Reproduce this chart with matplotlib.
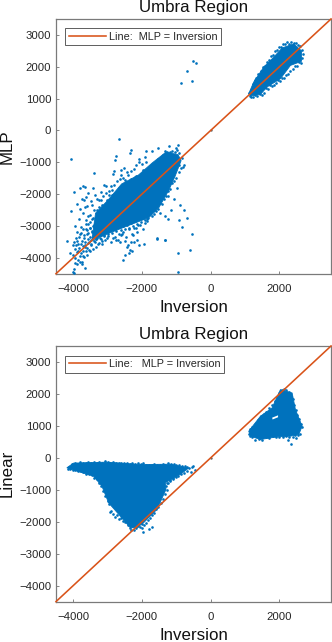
import matplotlib
matplotlib.use("Agg")
import matplotlib.pyplot as plt
from matplotlib.lines import Line2D

plt.rcParams['font.family'] = ['Liberation Sans', 'DejaVu Sans']

BLUE = '#0072BD'
ORANGE = '#D95319'
GREY = '#262626'

# top panel: solid part of the lower cloud, outline
mlp_core_x = [-3350, -2980, -2590, -2100, -1700, -1300, -950, -860, -1040, -1220, -1510, -1800, -2400, -2980, -3280,
              -3450]
mlp_core_y = [-2600, -2180, -1680, -1400, -1020, -680, -760, -950, -1450, -1880, -2430, -2740, -2990, -3240, -3380,
              -3400]
# top panel: solid part of the upper cloud
mlp_upper_x = [1107, 1155, 1447, 1640, 2029, 2320, 2640, 2640, 2417, 2078, 1835, 1544, 1252]
mlp_upper_y = [1156, 1080, 1130, 1365, 1625, 2042, 2170, 2500, 2720, 2590, 2302, 1990, 1520]
# top panel: single points around the clouds
mlp_pts_x = [-515, -427, -700, -874, -553, -2680, -2330, -2360, -1883, -4064, -2757, -2785, -3386,
             -2533, -2610, -2804, -2853, -3647, -3802, -3967, -3415, -3370, -3100, -3040, -2950, -2900, -3180,
             -3240, -3560, -3620, -3680, -3750, -3900, -4050, -3600, -3480, -3440, -3300, -3380,
             -3250, -3700, -3790, -3840, -3950, -3880, -3760, -3640, -3700, -3580, -3520, -3430, -3610,
             -4000, -3960, -3880, -3820, -3760, -3680, -3600, -3520, -3440, -3360, -3900, -3840, -3780, -3720,
             -3660, -3580, -3500, -3420, -3340, -3260, -4170, -4090, -4010, -3940, -3870, -3810, -3750, -3690,
             -3620, -3540, -3470, -3390, -3310, -3230, -3950, -3880, -3800, -3730, -3670, -3590, -3500,
             -3430, -3350, -3280, -3200, -4020, -3980, -3910, -3850, -3780, -3720, -3650, -3570,
             -3490, -3410, -3330, -3250, -3170, -3090, -3010, -3150, -3070, -2990, -2910, -2830, -2750,
             -2680, -3200, -3120, -3040, -2960, -2880, -2800, -2720, -2640, -2560, -2480, -2400, -2320,
             -2240, -2160, -2080, -2000, -1920, -2780, -2700, -2620, -2540, -2460, -2380, -2300, -2220,
             -2140, -2060, -1980, -1900, -1820, -1740, -2650, -2570, -2490, -2410, -2330, -2250, -2170,
             -3700, -3660, -2600, -2440, -2200, -2080, -1980, -1880, -1700, -1520, -1330, -1200, -1180, -1000,
             -950, -930, -1100, -800, -895, -770, -682, -915, -837, -546, -605, -954, -1322, -1554,
             -3980, -2560, -2500, -2350, -2230, -2130, -2080, -1950, -1560, -1330, -1720, -1640, -1480,
             -1340, -1240, -1160, -1080, -990, -1230, -2430, -2290, -2370, -2120, -1850, -951,
             -3300, -3220, -3150, -3080, -3010, -2940, -2870, -2800, -2730, -2660, -2590, -2520,
             -2450, -2380, -2310, -2240, -2170, -2100, -2030, -1960, -1890, -1820, -1750, -1680,
             -1610, -1540, -1470, -1400, -1330, -1260, -1190, -1120, -1050, -980, -910, -840,
             -790, -860, -930, -1000, -1060, -1120, -1180, -1240, -1300, -1360, -1420, -1480,
             -1540, -1600, -1660, -1720, -1780, -1840, -1900, -1960, -2020, -2080, -2140, -2200,
             -2260, -2320, -2380, -2440, -2500, -2560, -2620, -2680, -2740, -2800, -2860, -2920,
             -2980, -3040, -3100, -3160, -3220, -3280, -3340, -3400, -3460, -3520, -3580, -3640,
             -3200, -3260, -3320, -3380, -3440, -3500, -3560, -3620, -3680, -3740, -3800, -3860,
             -3920, -3980, -3720, -3660, -3600, -3540, -3480, -3420, -3360, -3300, -3240, -3180,
             1120, 1160, 1220, 1280, 1330, 1390, 1450, 1510, 1570, 1630, 1690, 1750, 1810, 1870, 1930, 1990,
             2050, 2110, 2170, 2230, 2290, 2350, 2410, 2470, 2530, 2590, 2650, 2680, 2660, 2620, 2560, 2500,
             2440, 2380, 2320, 2260, 2200, 2140, 2080, 2020, 1960, 1900, 1840, 1780, 1720, 1660, 1600, 1540,
             1480, 1420, 1360, 1300, 1240, 1180, 1130]
mlp_pts_y = [2177, 2104, 1875, 1479, 1542, -271, -604, -698, -656, -906, -802, -927, -1344,
             -1165, -1228, -1270, -1353, -1773, -1815, -1930, -1794, -2020, -1720, -1760, -1900, -1760, -1930,
             -2180, -1950, -2080, -2200, -2150, -2300, -2530, -2380, -2220, -2350, -2160, -2500,
             -2400, -2600, -2460, -2780, -3000, -3200, -3020, -2820, -3090, -2950, -2650, -2740, -3250,
             -3600, -3720, -3480, -3340, -3220, -3380, -3120, -3050, -3200, -2900, -3830, -3700, -3560, -3640,
             -3500, -3420, -3350, -3000, -2800, -2720, -3470, -3850, -3910, -4000, -4080, -3950, -4120, -3990,
             -3800, -3750, -3600, -3480, -3300, -3150, -4160, -4200, -4130, -4180, -4310, -3900, -3780,
             -3720, -3660, -3580, -3400, -4440, -4480, -3600, -3780, -3860, -3930, -3650, -3550,
             -3450, -3350, -3400, -3260, -3480, -3300, -3380, -3560, -3440, -3320, -3500, -3380, -3440,
             -3250, -2200, -2050, -1950, -2040, -1880, -1700, -1600, -1520, -1480, -1560, -1400, -1260,
             -1200, -1100, -1000, -1060, -850, -3350, -3450, -3280, -3200, -3360, -3100, -3260, -3060,
             -3180, -2980, -3100, -2900, -2750, -2500, -3500, -3240, -3460, -3600, -3500, -3300, -3080,
             -1740, -2420, -1400, -1300, -1460, -900, -1240, -1000, -660, -560, -640, -480, -680, -560,
             -450, -1100, -1400, -1150, -2349, -2485, -2737, -2800, -3030, -3240, -3741, -3837, -3449, -3397,
             -4350, -4060, -3900, -3740, -3520, -3440, -3590, -3560, -3380, -3440, -2300, -2500, -2600,
             -2700, -2780, -2500, -2150, -1800, -2050, -3670, -3780, -3860, -2980, -2840, -4448,
             -2500, -2620, -2330, -2400, -2180, -2250, -2020, -2100, -1900, -1800, -1880, -1700,
             -1620, -1700, -1520, -1600, -1440, -1530, -1380, -1460, -1260, -1340, -1120, -1210,
             -1040, -900, -980, -760, -860, -680, -720, -640, -690, -620, -720, -860,
             -1090, -1180, -1300, -1480, -1590, -1650, -1830, -1900, -2060, -2150, -2320, -2270,
             -2470, -2540, -2620, -2700, -2640, -2780, -2810, -2740, -2880, -2790, -2940, -2860,
             -2990, -2900, -3050, -2960, -3090, -3010, -3140, -3040, -3170, -3090, -3220, -3130,
             -3260, -3150, -3310, -3190, -3370, -3250, -3420, -3300, -3150, -3050, -3230, -3110,
             -2900, -3000, -2850, -2960, -2780, -2880, -2700, -2940, -3300, -3460, -3260, -3560,
             -3390, -3520, -3800, -3600, -3680, -3520, -3560, -3420, -3520, -3380, -3550, -3290,
             1180, 1280, 1460, 1580, 1640, 1780, 1860, 1980, 2020, 2160, 2200, 2340, 2360, 2490, 2540, 2620,
             2620, 2710, 2700, 2770, 2730, 2790, 2760, 2740, 2690, 2640, 2520, 2400, 2260, 2130, 2150, 2030,
             2020, 1920, 1860, 1760, 1740, 1640, 1650, 1560, 1590, 1480, 1440, 1390, 1420, 1310, 1330, 1190,
             1100, 1130, 1070, 1100, 1040, 1060, 1080]
# bottom panel: solid lower cloud
lin_core_x = [-4184, -3990, -3020, -2049, -1175, -641, -883, -1320, -1300, -1563, -1951, -2146, -2340, -2631, -2971,
              -3165, -3408, -3990]
lin_core_y = [-312, -165, -135, -210, -200, -320, -520, -781, -990, -1615, -2031, -2187, -2187, -1823, -1406,
              -885, -573, -385]
# bottom panel: solid upper cloud and the small gap inside it
lin_upper_x = [1107, 1447, 1786, 2029, 2369, 2466, 2660, 2563, 2320, 1932, 1447, 1155]
lin_upper_y = [833, 1302, 1562, 2135, 2031, 1510, 990, 729, 677, 656, 573, 677]
lin_gap_x = [1789, 1960, 1960, 1800]
lin_gap_y = [1257, 1330, 1270, 1200]
lin_pts_x = [-1719, -1787, -1981, -2010, -2330, -2930, -557, -460, -576, -508, 2332, 2235, 2496,
             -4120, -4040, -3960, -3880, -3800, -3720, -3640, -3560, -3480, -3400, -3320, -3240, -3160, -3080, -3000, -2920,
             -2840, -2760, -2680, -2600, -2520, -2440, -2360, -2280, -2200, -2120, -2040, -1960, -1880, -1800, -1720, -1640,
             -1560, -1480, -1400, -1320, -1240, -1160, -1080, -1000, -920, -840, -760, -680, -620, -700, -780, -860,
             -940, -1020, -1100, -1180, -1260, -1300, -1280, -1340, -1400, -1460, -1520, -1580, -1640, -1700, -1760, -1820,
             -1880, -1940, -2000, -2060, -2120, -2180, -2240, -2300, -2360, -2420, -2480, -2540, -2600, -2660, -2720, -2780,
             -2840, -2900, -2960, -3000, -3060, -3120, -3180, -3240, -3300, -3380, -3460, -3540, -3620, -3700, -3780, -3860,
             -3940, -4020, -4100, -4160, -1100, -1180, -1250,
             1120, 1150, 1210, 1290, 1370, 1450, 1540, 1620, 1700, 1780, 1860, 1940, 2000, 2060, 2130, 2200,
             2280, 2350, 2400, 2420, 2470, 2520, 2580, 2640, 2660, 2610, 2540, 2460, 2380, 2290, 2200, 2100,
             2000, 1900, 1800, 1700, 1600, 1500, 1400, 1300, 1210, 1150]
lin_pts_y = [-2154, -2227, -2310, -2206, -2258, -1705, -277, -381, -433, -256, 423, 559, 611,
             -300, -180, -150, -185, -140, -170, -155, -130, -165, -145, -175, -135, -170, -115, -120, -165,
             -130, -170, -150, -175, -160, -150, -185, -165, -200, -170, -205, -175, -220, -210, -230, -190,
             -225, -235, -200, -215, -175, -190, -195, -225, -240, -255, -270, -290, -330, -400, -460, -510,
             -560, -610, -660, -730, -790, -880, -1000, -1130, -1280, -1400, -1530, -1600, -1720, -1790, -1880, -1960,
             -2030, -2100, -2060, -2160, -2130, -2190, -2260, -2140, -2190, -2090, -2010, -1990, -1880, -1900, -1800, -1840,
             -1750, -1650, -1450, -1350, -1200, -1050, -880, -780, -660, -620, -540, -510, -500, -450, -420, -410,
             -390, -370, -345, -360, -620, -700, -800,
             760, 900, 980, 1040, 1190, 1320, 1370, 1420, 1560, 1650, 1780, 1900, 2040, 2120, 2150, 2110,
             2060, 1950, 1850, 1650, 1500, 1350, 1200, 1050, 950, 760, 700, 730, 660, 660, 680, 640,
             660, 640, 670, 620, 640, 570, 600, 570, 640, 680]

tick_x = [-4000, -2000, 0, 2000]
tick_y = [-4000, -3000, -2000, -1000, 0, 1000, 2000, 3000]
line_ends = [-4500, 3500]


def draw_panel(ax, core, upper, pts, ylabel, legend_text, legend_y):
    ax.fill(core[0], core[1], color=BLUE, lw=0.6, zorder=2)
    ax.fill(upper[0], upper[1], color=BLUE, lw=0.6, zorder=2)
    ax.scatter(pts[0], pts[1], s=3.6, color=BLUE, linewidths=0, zorder=3)
    ax.scatter([0], [0], s=3, color='#666666', linewidths=0, zorder=3)
    ax.plot(line_ends, line_ends, color=ORANGE, lw=1.15, zorder=4, clip_on=False)
    ax.set_xlim(-4500, 3500)
    ax.set_ylim(-4500, 3500)
    ax.set_xticks(tick_x)
    ax.set_yticks(tick_y)
    ax.tick_params(direction='in', length=2.2, width=0.5, color='#555555', labelcolor=GREY, labelsize=8.2)
    ax.tick_params(axis='x', pad=7.5)
    ax.tick_params(axis='y', pad=3.5)
    for s in ax.spines.values():
        s.set_color('#7a7a7a')
        s.set_linewidth(0.9)
    ax.set_title('Umbra Region', fontsize=12.2, pad=5, color='#111111')
    ax.set_xlabel('Inversion', fontsize=12.2, labelpad=4.5, color='#111111')
    ax.set_ylabel(ylabel, fontsize=12.2, color='#111111')
    ax.yaxis.set_label_coords(-0.151, 0.5)
    handle = Line2D([], [], color=ORANGE, lw=1.15)
    leg = ax.legend([handle], [legend_text], loc='upper left', bbox_to_anchor=(0.034, legend_y), fontsize=7.8,
                    frameon=True, fancybox=False, framealpha=1, edgecolor='#444444', borderpad=0.32,
                    handlelength=3.4, handletextpad=0.3, borderaxespad=0)
    leg.get_frame().set_linewidth(0.6)
    for t in leg.get_texts():
        t.set_color(GREY)


fig = plt.figure(figsize=(3.32, 6.42), dpi=100)
W, H = 332.0, 642.0
ax1 = fig.add_axes([56 / W, 1 - 273.7 / H, 275 / W, 254.7 / H])
ax2 = fig.add_axes([56 / W, 1 - 601.6 / H, 275 / W, 255.6 / H])

draw_panel(ax1, (mlp_core_x, mlp_core_y), (mlp_upper_x, mlp_upper_y), (mlp_pts_x, mlp_pts_y),
           'MLP', 'Line:  MLP = Inversion', 0.964)
draw_panel(ax2, (lin_core_x, lin_core_y), (lin_upper_x, lin_upper_y), (lin_pts_x, lin_pts_y),
           'Linear', 'Line:   MLP = Inversion', 0.962)
ax2.fill(lin_gap_x, lin_gap_y, color='white', lw=0, zorder=3)

fig.savefig('out.png', dpi=100)
